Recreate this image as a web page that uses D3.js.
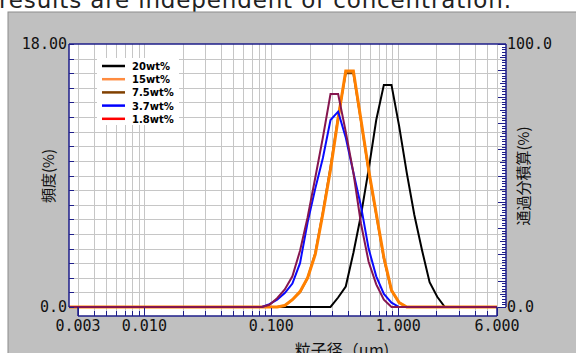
<!DOCTYPE html>
<html>
<head>
<meta charset="utf-8">
<script src="https://d3js.org/d3.v7.min.js"></script>
<style>
body { margin: 0; background: #fff; overflow: hidden; }
text { font-family: "DejaVu Sans Mono", monospace; }
.jp { font-family: "Noto Sans CJK JP", sans-serif; }
</style>
</head>
<body>
<svg id="chart" width="576" height="353"></svg>
<script>
// particle size channels (um)
var sizes = [0.00255, 0.0843, 0.0968, 0.1112, 0.1277, 0.1466, 0.1684, 0.1933, 0.2220, 0.2549,
             0.2927, 0.3361, 0.3859, 0.4432, 0.5089, 0.5844, 0.6710, 0.7705, 0.8848, 1.0160,
             1.1667, 1.3397, 1.5384, 1.7665, 2.0285, 2.3293, 2.6747, 6.0];

// frequency (%) per concentration
var wt20  = [0,0,0,0,0,0,0,0,0,0, 0,0.65,1.4,3.7,6.3,9.4,12.8,15.2,15.2,12.4, 9.2,6.3,3.9,1.7,0.7,0,0,0];
var wt15  = [0,0,0,0,0.1,0.5,1.05,2.0,3.6,6.4, 9.4,12.9,16.15,16.15,12.8,9.4,6.4,3.4,1.15,0.3, 0,0,0,0,0,0,0,0];
var wt7_5 = [0,0,0,0,0.1,0.5,1.0,2.0,3.7,6.5, 9.6,13.0,16.0,16.0,12.7,9.3,6.3,3.3,1.1,0.3, 0,0,0,0,0,0,0,0];
var wt3_7 = [0,0,0.2,0.5,0.95,1.6,3.0,5.8,8.1,10.2, 12.8,13.37,11.6,9.2,6.9,4.0,2.1,0.9,0.3,0, 0,0,0,0,0,0,0,0];
var wt1_8 = [0,0,0.15,0.6,1.2,2.1,3.85,6.15,8.85,11.6, 14.58,14.58,12.0,9.2,5.7,3.1,1.55,0.5,0,0, 0,0,0,0,0,0,0,0];

var legendNames = ["20wt%", "15wt%", "7.5wt%", "3.7wt%", "1.8wt%"];
var xTickLabels = ["0.003", "0.010", "0.100", "1.000", "6.000"];
var xTickValues = [0.003, 0.01, 0.1, 1, 6];

var svg = d3.select("#chart");
var axisCol = "#1e1e8a";

// caption cut off at top
svg.append("text")
   .attr("x", -1).attr("y", 8)
   .attr("textLength", 512)
   .style("font-family", "DejaVu Sans, sans-serif")
   .style("font-size", "23px")
   .attr("fill", "#222")
   .text("results are independent of concentration.");

// grey window panel
svg.append("rect")
   .attr("x", 8).attr("y", 12).attr("width", 580).attr("height", 350)
   .attr("fill", "#c0c0c0").attr("stroke", "#8c8c8c").attr("stroke-width", 1);

var x = d3.scaleLog().domain([0.003, 6]).range([78, 497]);
var y = d3.scaleLinear().domain([0, 18]).range([307, 44]);
var yR = d3.scaleLinear().domain([0, 100]).range([307, 44]);

// white plot areas
svg.append("rect").attr("x", 69).attr("y", 44).attr("width", 437).attr("height", 263).attr("fill", "#fff");
svg.append("rect").attr("x", 78).attr("y", 307).attr("width", 419).attr("height", 9).attr("fill", "#fff");

var gridTicks = x.ticks().filter(function(d) { return d >= 0.003 && d <= 6; });

// vertical grid
svg.append("g").selectAll("line").data(gridTicks).enter().append("line")
   .attr("x1", function(d) { return Math.round(x(d)) + 0.5; })
   .attr("x2", function(d) { return Math.round(x(d)) + 0.5; })
   .attr("y1", 44).attr("y2", 316)
   .attr("stroke", "#c6c6c6").attr("stroke-width", 1);

// horizontal grid
svg.append("g").selectAll("line").data(d3.range(1, 18)).enter().append("line")
   .attr("x1", 69).attr("x2", 506)
   .attr("y1", function(d) { return Math.round(y(d)) + 0.5; })
   .attr("y2", function(d) { return Math.round(y(d)) + 0.5; })
   .attr("stroke", "#c6c6c6").attr("stroke-width", 1);

// legend box
var leg = svg.append("g").attr("transform", "translate(97,58)");
leg.append("rect").attr("width", 82).attr("height", 67).attr("fill", "#fff");
var legCols = ["#000000", "#ff8c40", "#804000", "#0000ff", "#ff0000"];
legendNames.forEach(function(n, i) {
  var yy = 8 + i * 13.2;
  leg.append("line").attr("x1", 5).attr("x2", 28).attr("y1", yy).attr("y2", yy)
     .attr("stroke", legCols[i]).attr("stroke-width", 2.5);
  leg.append("text").attr("x", 35).attr("y", yy + 4)
     .style("font-family", "DejaVu Sans, sans-serif").style("font-weight", "bold")
     .style("font-size", "10px").attr("fill", "#000").text(n);
});

// curves
var line = d3.line()
   .x(function(d) { return x(d[0]); })
   .y(function(d) { return y(d[1]); });

svg.append("clipPath").attr("id", "clip").append("rect")
   .attr("x", 69).attr("y", 40).attr("width", 431).attr("height", 270);

var series = [
  { vals: wt20,  col: "#000000", w: 2 },
  { vals: wt7_5, col: "#804000", w: 2 },
  { vals: wt15,  col: "#ff8000", w: 3 },
  { vals: wt3_7, col: "#0a0aff", w: 2 },
  { vals: wt1_8, col: "#85164f", w: 2 }
];
var cg = svg.append("g").attr("clip-path", "url(#clip)");
series.forEach(function(s) {
  cg.append("path")
    .datum(sizes.map(function(d, i) { return [d, s.vals[i]]; }))
    .attr("d", line)
    .attr("fill", "none").attr("stroke", s.col).attr("stroke-width", s.w)
    .attr("stroke-linejoin", "miter");
});

// axes frame
var fr = svg.append("g").attr("stroke", axisCol).attr("stroke-width", 1.5).attr("fill", "none");
fr.append("line").attr("x1", 69).attr("x2", 69).attr("y1", 44).attr("y2", 307);
fr.append("line").attr("x1", 69).attr("x2", 506).attr("y1", 44).attr("y2", 44);
fr.append("line").attr("x1", 506).attr("x2", 506).attr("y1", 44).attr("y2", 307);
fr.append("line").attr("x1", 78).attr("x2", 497).attr("y1", 316).attr("y2", 316);
fr.append("line").attr("x1", 78).attr("x2", 78).attr("y1", 307).attr("y2", 316);
fr.append("line").attr("x1", 497).attr("x2", 497).attr("y1", 307).attr("y2", 316);

// left ticks
svg.append("g").selectAll("line").data(d3.range(0, 19)).enter().append("line")
   .attr("x1", 69).attr("x2", 74)
   .attr("y1", function(d) { return Math.round(y(d)) + 0.5; })
   .attr("y2", function(d) { return Math.round(y(d)) + 0.5; })
   .attr("stroke", axisCol).attr("stroke-width", 1);

// right ticks
svg.append("g").selectAll("line").data(d3.range(0, 101)).enter().append("line")
   .attr("x1", function(d) { return d % 10 === 0 ? 498 : (d % 5 === 0 ? 500 : 502); })
   .attr("x2", 506)
   .attr("y1", function(d) { return Math.round(yR(d)) + 0.5; })
   .attr("y2", function(d) { return Math.round(yR(d)) + 0.5; })
   .attr("stroke", axisCol).attr("stroke-width", 1);

// bottom ticks
svg.append("g").selectAll("line").data(gridTicks).enter().append("line")
   .attr("x1", function(d) { return Math.round(x(d)) + 0.5; })
   .attr("x2", function(d) { return Math.round(x(d)) + 0.5; })
   .attr("y1", function(d) { return xTickValues.indexOf(d) >= 0 ? 308 : 311; })
   .attr("y2", 316)
   .attr("stroke", axisCol).attr("stroke-width", 1);

// tick labels
var lab = svg.append("g").style("font-size", "15px").attr("fill", "#111");
lab.selectAll(".xl").data(xTickValues).enter().append("text")
   .attr("x", function(d) { return x(d); }).attr("y", 331)
   .attr("text-anchor", "middle")
   .text(function(d, i) { return xTickLabels[i]; });
lab.append("text").attr("x", 67).attr("y", 49).attr("text-anchor", "end").text("18.00");
lab.append("text").attr("x", 67).attr("y", 312).attr("text-anchor", "end").text("0.0");
lab.append("text").attr("x", 507).attr("y", 49).text("100.0");
lab.append("text").attr("x", 507).attr("y", 312).text("0.0");

// axis titles
svg.append("text").attr("class", "jp")
   .attr("transform", "translate(54,176) rotate(-90)")
   .attr("text-anchor", "middle").style("font-size", "15px").attr("fill", "#111")
   .text("頻度(%)");
svg.append("text").attr("class", "jp")
   .attr("transform", "translate(529,176) rotate(-90)")
   .attr("text-anchor", "middle").style("font-size", "15px").attr("fill", "#111")
   .text("通過分積算(%)");
svg.append("text").attr("class", "jp")
   .attr("x", 342).attr("y", 356)
   .attr("text-anchor", "middle").style("font-size", "16px").attr("fill", "#111")
   .text("粒子径（μm)");
</script>
</body>
</html>
